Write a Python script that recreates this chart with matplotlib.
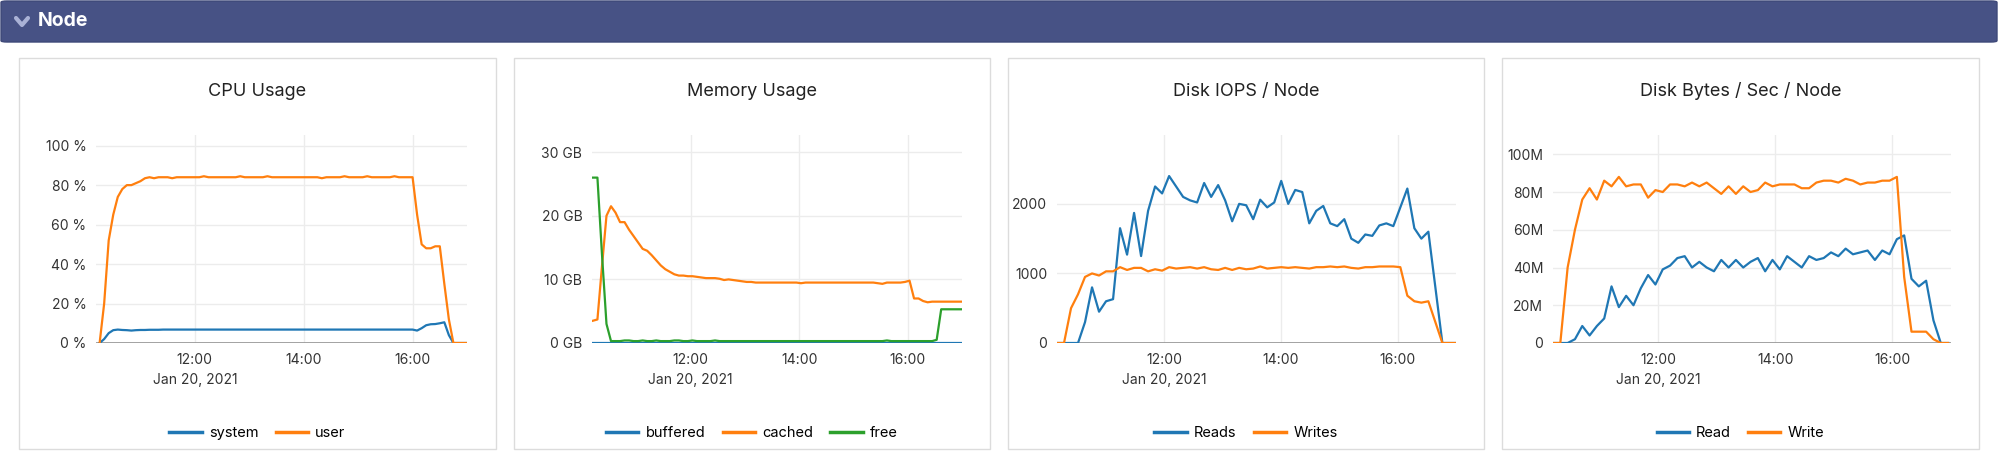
import matplotlib
matplotlib.use("Agg")
import matplotlib.pyplot as plt
from matplotlib.patches import FancyBboxPatch, Rectangle
from matplotlib.lines import Line2D
import pandas as pd

plt.rcParams['font.family'] = ['Inter', 'DejaVu Sans']

DAY = "2021-01-20"
BLUE, ORANGE, GREEN = "#1f77b4", "#ff7f0e", "#2ca02c"

# ---- data ----
cpu_start = "10:15"
cpu_user = [0, 20, 52, 65, 74, 78, 80, 80, 81, 82,
            83.5, 84, 83.5, 84, 84, 84, 83.5, 84, 84, 84, 84, 84, 84, 84.5, 84, 84, 84, 84, 84, 84,
            84, 84.5, 84, 84, 84, 84, 84, 84.5, 84, 84, 84, 84, 84, 84, 84, 84, 84, 84, 84, 83.5,
            84, 84, 84, 84, 84.5, 84, 84, 84, 84, 84.5, 84, 84, 84, 84, 84, 84.5, 84, 84, 84, 84,
            65, 50, 48, 48, 49, 49, 30, 12, 0, 0, 0, 0]
cpu_system = [0, 2, 5, 6.5, 6.8, 6.6, 6.5, 6.3, 6.5,
              6.6, 6.6, 6.7, 6.7, 6.7, 6.8, 6.8, 6.8, 6.8, 6.8, 6.8, 6.8, 6.8, 6.8, 6.8, 6.8, 6.8, 6.8, 6.8, 6.8, 6.8,
              6.8, 6.8, 6.8, 6.8, 6.8, 6.8, 6.8, 6.8, 6.8, 6.8, 6.8, 6.8, 6.8, 6.8, 6.8, 6.8, 6.8, 6.8, 6.8, 6.8,
              6.8, 6.8, 6.8, 6.8, 6.8, 6.8, 6.8, 6.8, 6.8, 6.8, 6.8, 6.8, 6.8, 6.8, 6.8, 6.8, 6.8, 6.8, 6.8, 6.8,
              6.3, 7.5, 9.0, 9.5, 9.6, 10.0, 10.5, 4, 0, 0, 0, 0, 0]

mem_start = "10:12"
mem_cached = [3.5, 3.7, 12, 20, 21.5, 20.5, 19, 19, 17.8, 16.8, 15.8, 14.8, 14.5, 13.8, 13, 12.2, 11.6, 11.2,
              10.8, 10.6, 10.6, 10.5, 10.5, 10.4, 10.3, 10.2, 10.2, 10.2, 10.1, 9.9, 10.0, 9.9, 9.8, 9.7,
              9.6, 9.6, 9.5, 9.5, 9.5, 9.5, 9.5, 9.5, 9.5, 9.5, 9.5, 9.5, 9.4, 9.5, 9.5, 9.5, 9.5, 9.5,
              9.5, 9.5, 9.5, 9.5, 9.5, 9.5, 9.5, 9.5, 9.5, 9.5, 9.5, 9.4, 9.3, 9.5, 9.5, 9.5, 9.5, 9.6,
              9.8, 7.0, 7.0, 6.6, 6.4, 6.5, 6.5, 6.5, 6.5, 6.5, 6.5, 6.5, 6.5]
mem_free = [26, 26, 14, 3, 0.3, 0.3, 0.3, 0.4, 0.4, 0.3, 0.3, 0.4, 0.3, 0.3, 0.4, 0.3, 0.3, 0.3, 0.4, 0.4,
            0.3, 0.3, 0.4, 0.3, 0.3, 0.3, 0.3, 0.4, 0.3, 0.3, 0.3, 0.3, 0.3, 0.3, 0.3, 0.3, 0.3, 0.3, 0.3, 0.3,
            0.3, 0.3, 0.3, 0.3, 0.3, 0.3, 0.3, 0.3, 0.3, 0.3, 0.3, 0.3, 0.3, 0.3, 0.3, 0.3, 0.3, 0.3, 0.3, 0.3,
            0.3, 0.3, 0.3, 0.3, 0.3, 0.4, 0.3, 0.3, 0.3, 0.3, 0.3, 0.3, 0.3, 0.3, 0.3, 0.3, 0.5, 5.3, 5.3, 5.3,
            5.3, 5.3, 5.3]
mem_buffered = [0.05] * len(mem_free)

iops_start = "10:10"
iops_reads = [0, 0, 0, 0, 300, 800, 450, 600, 630, 1650, 1270, 1870, 1250, 1900, 2250, 2150, 2400, 2250,
              2100, 2050, 2020, 2300, 2100, 2270, 2050, 1750, 2000, 1980, 1780, 2060, 1950, 2020, 2330,
              2000, 2200, 2170, 1720, 1900, 1970, 1720, 1680, 1780, 1500, 1440, 1560, 1540, 1690, 1720,
              1680, 1950, 2220, 1650, 1500, 1600, 800, 0, 0, 0]
iops_writes = [0, 0, 500, 700, 950, 1000, 970, 1030, 1030, 1090, 1050, 1080, 1080, 1030, 1060, 1040,
               1090, 1070, 1080, 1090, 1070, 1090, 1060, 1050, 1080, 1050, 1080, 1060, 1070, 1100, 1070,
               1080, 1090, 1080, 1090, 1080, 1070, 1090, 1090, 1100, 1090, 1100, 1080, 1070, 1090, 1090,
               1100, 1100, 1100, 1090, 680, 600, 580, 600, 300, 0, 0, 0]

bytes_start = "10:12"
bytes_write = [0, 0, 40, 60, 76, 82, 76, 86, 83, 88, 83, 84, 84, 77, 81, 80, 84, 84, 83, 85, 83, 85, 82,
               79, 83, 79, 83, 80, 81, 85, 83, 84, 84, 84, 82, 82, 85, 86, 86, 85, 87, 86, 84, 85, 85,
               86, 86, 88, 35, 6, 6, 6, 2, 0, 0]
bytes_read = [0, 0, 0, 2, 9, 4, 9, 13, 30, 19, 25, 20, 29, 36, 31, 39, 41, 45, 46, 40, 43, 40, 38, 44,
              40, 44, 40, 43, 45, 38, 44, 39, 46, 43, 40, 46, 44, 45, 48, 46, 50, 47, 48, 49, 44, 49,
              47, 55, 57, 34, 30, 33, 12, 0, 0]


def times(start, n, minutes):
    t0 = pd.Timestamp(f"{DAY} {start}")
    return [t0 + pd.Timedelta(minutes=minutes * i) for i in range(n)]


W, H = 1999, 462
fig = plt.figure(figsize=(W / 100, H / 100), dpi=100)
fig.patch.set_facecolor("white")

fig.patches.append(FancyBboxPatch((1 / W, 1 - 42 / H), 1996 / W, 41 / H, boxstyle="round,pad=0,rounding_size=0.003",
                                  transform=fig.transFigure, facecolor="#475285", edgecolor="#3d4878", lw=1,
                                  zorder=0))
fig.lines.append(Line2D([16 / W, 22 / W, 28 / W], [1 - 18 / H, 1 - 25 / H, 1 - 18 / H], transform=fig.transFigure,
                        color="#aab2d6", lw=3, solid_capstyle="round", solid_joinstyle="round"))
fig.text(38 / W, 1 - 21 / H, "Node", color="white", fontsize=14, fontweight="bold", va="center")

panels = [
    dict(box=(19, 496), ax=(96, 467), title="CPU Usage"),
    dict(box=(514, 990), ax=(592, 962), title="Memory Usage"),
    dict(box=(1008, 1484), ax=(1057, 1456), title="Disk IOPS / Node"),
    dict(box=(1502, 1979), ax=(1553, 1951), title="Disk Bytes / Sec / Node"),
]
box_top, box_bot = 58, 449
ax_top, ax_bot = 135, 343

xl0 = [pd.Timestamp(f"{DAY} 10:11"), pd.Timestamp(f"{DAY} 10:11"), pd.Timestamp(f"{DAY} 10:10"),
       pd.Timestamp(f"{DAY} 10:12")]
xl1 = pd.Timestamp(f"{DAY} 17:00")

axes = []
for i, p in enumerate(panels):
    b0, b1 = p["box"]
    fig.patches.append(Rectangle((b0 / W, 1 - box_bot / H), (b1 - b0) / W, (box_bot - box_top) / H,
                                 transform=fig.transFigure, facecolor="white", edgecolor="#dcdcdc", lw=1, zorder=0))
    fig.text((b0 + b1) / 2 / W, 1 - 91 / H, p["title"], ha="center", va="center", fontsize=13, color="#222")
    a0, a1 = p["ax"]
    ax = fig.add_axes([a0 / W, 1 - ax_bot / H, (a1 - a0) / W, (ax_bot - ax_top) / H])
    ax.set_zorder(5)
    ax.patch.set_alpha(0)
    for s in ax.spines.values():
        s.set_visible(False)
    ax.set_xlim(xl0[i], xl1)
    ticks = [pd.Timestamp(f"{DAY} {h}") for h in ("12:00", "14:00", "16:00")]
    ax.set_xticks(ticks)
    ax.set_xticklabels(["12:00\nJan 20, 2021", "14:00", "16:00"], va="top", linespacing=1.6)
    ax.tick_params(length=0, labelsize=10, colors="#333", pad=7)
    ax.grid(True, color="#ececec", lw=1)
    ax.set_axisbelow(True)
    axes.append(ax)

lw = 1.6
ax = axes[0]
ax.plot(times(cpu_start, len(cpu_system), 5), cpu_system, color=BLUE, lw=lw, label="system")
ax.plot(times(cpu_start, len(cpu_user), 5), cpu_user, color=ORANGE, lw=lw, label="user")
ax.set_ylim(0, 105.4)
ax.set_yticks([0, 20, 40, 60, 80, 100])
ax.set_yticklabels([f"{v} %" for v in [0, 20, 40, 60, 80, 100]])

ax = axes[1]
ax.plot(times(mem_start, len(mem_buffered), 5), mem_buffered, color=BLUE, lw=lw, label="buffered")
ax.plot(times(mem_start, len(mem_cached), 5), mem_cached, color=ORANGE, lw=lw, label="cached")
ax.plot(times(mem_start, len(mem_free), 5), mem_free, color=GREEN, lw=lw, label="free")
ax.set_ylim(0, 32.7)
ax.set_yticks([0, 10, 20, 30])
ax.set_yticklabels([f"{v} GB" for v in [0, 10, 20, 30]])

ax = axes[2]
ax.plot(times(iops_start, len(iops_reads), 7.2), iops_reads, color=BLUE, lw=lw, label="Reads")
ax.plot(times(iops_start, len(iops_writes), 7.2), iops_writes, color=ORANGE, lw=lw, label="Writes")
ax.set_ylim(0, 2990)
ax.set_yticks([0, 1000, 2000])
ax.set_yticklabels(["0", "1000", "2000"])

ax = axes[3]
ax.plot(times(bytes_start, len(bytes_read), 7.5), bytes_read, color=BLUE, lw=lw, label="Read")
ax.plot(times(bytes_start, len(bytes_write), 7.5), bytes_write, color=ORANGE, lw=lw, label="Write")
ax.set_ylim(0, 110.2)
ax.set_yticks([0, 20, 40, 60, 80, 100])
ax.set_yticklabels(["0", "20M", "40M", "60M", "80M", "100M"])

for i, ax in enumerate(axes):
    ax.axhline(0, color="#9a9a9a", lw=2, zorder=1.5)
    b0, b1 = panels[i]["box"]
    h, l = ax.get_legend_handles_labels()
    leg = fig.legend(h, l, loc="center", bbox_to_anchor=((b0 + b1) / 2 / W, 1 - 433 / H), ncol=len(l),
                     frameon=False, fontsize=10.5, handlelength=2.2, columnspacing=1.2, handletextpad=0.5)
    for lh in leg.get_lines():
        lh.set_linewidth(2.5)

fig.savefig("out.png", dpi=100)
